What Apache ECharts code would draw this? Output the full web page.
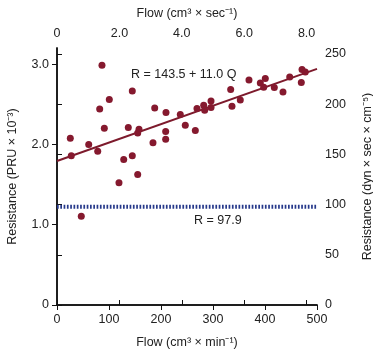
<!DOCTYPE html>
<html><head><meta charset="utf-8">
<script src="https://cdn.jsdelivr.net/npm/echarts@6/dist/echarts.min.js"></script>
<style>html,body{margin:0;padding:0;background:#fff}#c{width:373px;height:353px}</style>
</head><body><div id="c"></div>
<script>
// Flow (cm3/min) and resistance (dyn·sec·cm^-5) of the observations
const flowMin = [86.5,144.8,100.6,82.1,187.9,209.6,237.1,246.7,91.0,137.1,157.7,155.2,209.0,209.0,25.6,61.0,184.6,27.5,78.3,128.3,144.8,155.2,119.2,46.7,266.0,269.2,282.1,284.0,296.2,296.2,334.0,336.5,352.5,369.2,391.0,400.6,397.5,417.9,434.6,447.5,469.8,471.2,477.5];
const resistDyn = [238.8,213.2,204.7,195.3,196.3,191.7,189.8,179.1,176.1,176.8,175.1,171.4,172.8,165.2,166.2,159.9,161.5,148.6,153.2,145.0,148.6,130.0,121.7,88.3,173.8,195.7,199.0,194.0,203.3,196.7,214.6,198.0,204.3,224.2,221.2,225.6,216.9,216.6,212.2,227.2,221.6,234.5,232.1];
// Regression R = 143.5 + 11.0 Q (Q in cm3/sec)
const regIntercept = 143.5;
const regSlope = 11.0;
const meanR = 97.9;
const flowMinTicks = [0,100,200,300,400,500];
const flowSecTicks = [0,2.0,4.0,6.0,8.0];
const resistPruTicks = [0,1.0,2.0,3.0];
const resistDynTicks = [0,50,100,150,200,250];

const FONT = 'Liberation Sans, Arial, sans-serif';
const FS = 12.5;
const xMax = 500, yDynMax = 256, dynPerPru = 80;
const regLine = [0, xMax].map(f => [f, regIntercept + regSlope * f / 60]);
const meanLine = [0, xMax].map(f => [f, meanR]);
const axisCommon = {
  axisLine:{show:true,lineStyle:{color:'#111',width:1.5}},
  axisTick:{show:true,length:5,lineStyle:{color:'#111',width:1}},
  splitLine:{show:false},
  axisLabel:{color:'#222',fontSize:FS,fontFamily:FONT,showMaxLabel:false},
  nameTextStyle:{color:'#222',fontSize:FS,fontFamily:FONT},
  nameLocation:'middle'
};
const fmt1 = v => v === 0 ? '0' : v.toFixed(1);
const chart = echarts.init(document.getElementById('c'), null, {renderer:'canvas'});
chart.setOption({
  animation:false,
  grid:{left:57,right:56,top:48,bottom:48,containLabel:false,outerBoundsMode:'none'},
  xAxis:[
    Object.assign({}, axisCommon, {type:'value',position:'bottom',min:0,max:xMax,interval:flowMinTicks[1]-flowMinTicks[0],
      axisLabel:Object.assign({}, axisCommon.axisLabel,{showMaxLabel:true}),
      name:'Flow (cm³ × min⁻¹)',nameGap:31}),
    Object.assign({}, axisCommon, {type:'value',position:'top',min:0,max:xMax/60,interval:flowSecTicks[1]-flowSecTicks[0],
      axisLabel:Object.assign({}, axisCommon.axisLabel,{formatter:fmt1}),
      name:'Flow (cm³ × sec⁻¹)',nameGap:28})
  ],
  yAxis:[
    Object.assign({}, axisCommon, {type:'value',position:'right',min:0,max:yDynMax,interval:resistDynTicks[1]-resistDynTicks[0],
      name:'Resistance (dyn × sec × cm⁻⁵)',nameGap:44,nameRotate:90}),
    Object.assign({}, axisCommon, {type:'value',position:'left',min:0,max:yDynMax/dynPerPru,interval:resistPruTicks[1]-resistPruTicks[0],
      axisLabel:Object.assign({}, axisCommon.axisLabel,{formatter:fmt1}),
      name:'Resistance (PRU × 10⁻³)',nameGap:38,nameRotate:90})
  ],
  series:[
    {type:'line',xAxisIndex:0,yAxisIndex:0,data:meanLine,symbol:'none',
      lineStyle:{color:'#25388a',width:4,type:[1.7,1.6]},z:2},
    {type:'line',xAxisIndex:0,yAxisIndex:0,data:regLine,symbol:'none',
      lineStyle:{color:'#7d1a2c',width:2},z:3},
    {type:'scatter',xAxisIndex:0,yAxisIndex:0,data:flowMin.map((f,i)=>[f,resistDyn[i]]),
      symbol:'circle',symbolSize:7,itemStyle:{color:'#85192e',opacity:1},z:4}
  ],
  graphic:[
    {type:'text',left:131,top:68,style:{text:'R = '+regIntercept+' + '+regSlope.toFixed(1)+' Q',font:'12.5px '+FONT,fill:'#222'}},
    {type:'text',left:194,top:214,style:{text:'R = '+meanR,font:'12.5px '+FONT,fill:'#222'}}
  ]
});
</script></body></html>
